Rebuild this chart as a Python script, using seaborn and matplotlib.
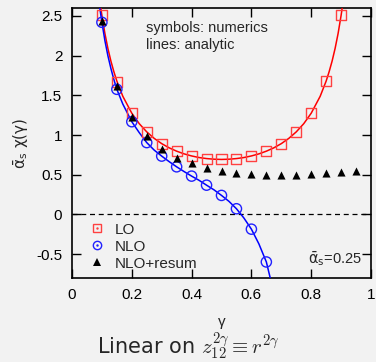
import matplotlib
matplotlib.use('Agg')
import matplotlib.pyplot as plt
import seaborn as sns
from matplotlib.lines import Line2D

# numerics (symbols)
gamma_lo = [0.10, 0.15, 0.20, 0.25, 0.30, 0.35, 0.40, 0.45, 0.50,
            0.55, 0.60, 0.65, 0.70, 0.75, 0.80, 0.85, 0.90]
lo_num = [2.506, 1.672, 1.275, 1.036, 0.893, 0.798, 0.736, 0.700, 0.693,
          0.700, 0.740, 0.800, 0.888, 1.038, 1.272, 1.680, 2.510]

gamma_nlo = [0.10, 0.15, 0.20, 0.25, 0.30, 0.35, 0.40, 0.45, 0.50, 0.55, 0.60, 0.65]
nlo_num = [2.42, 1.576, 1.168, 0.905, 0.735, 0.60, 0.483, 0.369, 0.24, 0.072, -0.185, -0.598]

gamma_res = [0.10, 0.15, 0.20, 0.25, 0.30, 0.35, 0.40, 0.45, 0.50,
             0.55, 0.60, 0.65, 0.70, 0.75, 0.80, 0.85, 0.90, 0.95]
res_num = [2.44, 1.618, 1.223, 0.99, 0.823, 0.716, 0.643, 0.590, 0.550,
           0.525, 0.508, 0.502, 0.498, 0.498, 0.506, 0.516, 0.533, 0.550]

# analytic curves (lines)
gamma_lo_line = [0.095, 0.10, 0.11, 0.12, 0.13, 0.14, 0.15, 0.17, 0.20, 0.225, 0.25,
                 0.275, 0.30, 0.325, 0.35, 0.375, 0.40, 0.425, 0.45, 0.475, 0.50,
                 0.525, 0.55, 0.575, 0.60, 0.625, 0.65, 0.675, 0.70, 0.725, 0.75,
                 0.775, 0.80, 0.83, 0.85, 0.86, 0.87, 0.88, 0.89, 0.90, 0.905]
lo_line = [2.637, 2.506, 2.280, 2.092, 1.933, 1.798, 1.680, 1.488, 1.275, 1.143, 1.040,
           0.958, 0.892, 0.839, 0.797, 0.763, 0.737, 0.717, 0.704, 0.696, 0.693,
           0.696, 0.704, 0.717, 0.737, 0.763, 0.797, 0.839, 0.892, 0.958, 1.040,
           1.143, 1.275, 1.488, 1.680, 1.798, 1.933, 2.092, 2.280, 2.506, 2.637]

gamma_nlo_line = [0.093, 0.10, 0.11, 0.12, 0.13, 0.14, 0.15, 0.17, 0.20, 0.225, 0.25,
                  0.275, 0.30, 0.325, 0.35, 0.375, 0.40, 0.425, 0.45, 0.475, 0.50,
                  0.525, 0.55, 0.575, 0.60, 0.625, 0.65, 0.663]
nlo_line = [2.60, 2.42, 2.19, 2.00, 1.84, 1.70, 1.576, 1.39, 1.168, 1.03, 0.905,
            0.81, 0.735, 0.665, 0.60, 0.54, 0.483, 0.43, 0.369, 0.31, 0.24,
            0.165, 0.072, -0.045, -0.185, -0.37, -0.598, -0.80]

bg = '#f2f2f2'
sns.set_style('ticks', rc={'axes.facecolor': bg, 'figure.facecolor': bg})
plt.rcParams['font.family'] = ['Liberation Sans', 'DejaVu Sans']

fig = plt.figure(figsize=(3.76, 3.62), dpi=100)
ax = fig.add_axes([72/376, 1 - 278/362, 299/376, 270/362])

ax.axhline(0, color='black', lw=0.9, ls=(0, (4, 3)), zorder=1)

sns.lineplot(x=gamma_lo_line, y=lo_line, color='#ff0000', lw=1.1, sort=False, ax=ax, zorder=3)
sns.lineplot(x=gamma_nlo_line, y=nlo_line, color='#0000ff', lw=1.1, sort=False, ax=ax, zorder=3)

ax.scatter(gamma_lo, lo_num, marker='s', s=52, facecolors='none',
           edgecolors='#ff4040', linewidths=1.0, zorder=4)
ax.scatter(gamma_nlo, nlo_num, marker='o', s=54, facecolors='none',
           edgecolors='#2020ff', linewidths=1.0, zorder=4)
ax.scatter(gamma_res, res_num, marker='^', s=34, color='black', linewidths=0, zorder=5)

ax.set_xlim(0, 1)
ax.set_ylim(-0.8, 2.6)
ax.set_xticks([0, 0.2, 0.4, 0.6, 0.8, 1])
ax.set_xticklabels(['0', '0.2', '0.4', '0.6', '0.8', '1'])
ax.set_yticks([-0.5, 0, 0.5, 1, 1.5, 2, 2.5])
ax.set_yticklabels(['-0.5', '0', '0.5', '1', '1.5', '2', '2.5'])
ax.tick_params(direction='in', length=6.5, width=1.0, top=True, right=True,
               labelsize=11, pad=7, colors='black')
for sp in ax.spines.values():
    sp.set_visible(True)
    sp.set_linewidth(1.2)
    sp.set_color('black')

ax.set_ylabel(r'$\bar{\mathrm{\alpha}}_{\mathrm{s}}\ \mathrm{\chi(\gamma)}$', fontsize=11, labelpad=4)
ax.set_xlabel('γ', fontsize=11, labelpad=9.5)

ax.text(0.247, 2.35, 'symbols: numerics', fontsize=10.5, va='center', ha='left')
ax.text(0.247, 2.135, 'lines: analytic', fontsize=10.5, va='center', ha='left')
ax.text(0.97, -0.56, r'$\bar{\mathrm{\alpha}}_{\mathrm{s}}$=0.25', fontsize=10.5,
        va='center', ha='right')

h_lo = (Line2D([], [], marker='s', ls='', ms=6, mfc='none', mec='#ff4040', mew=1.0),
        Line2D([], [], marker='.', ls='', ms=1.5, color='#ff4040'))
h_nlo = (Line2D([], [], marker='o', ls='', ms=6, mfc='none', mec='#2020ff', mew=1.0),
         Line2D([], [], marker='.', ls='', ms=1.5, color='#2020ff'))
h_res = Line2D([], [], marker='^', ls='', ms=6, color='black', mew=0)
ax.legend([h_lo, h_nlo, h_res], ['LO', 'NLO', 'NLO+resum'], loc='upper left',
          bbox_to_anchor=(0.052, 0.205), frameon=False, fontsize=11,
          handlelength=1.2, handletextpad=0.6, labelspacing=0.2, borderpad=0,
          borderaxespad=0)

fig.text(0.5, 1 - 347/362, r'Linear on $z_{12}^{2\gamma}\equiv r^{2\gamma}$',
         fontsize=15, ha='center', va='center', family='DejaVu Sans',
         math_fontfamily='cm')

fig.savefig('out.png', dpi=100, facecolor=bg)
